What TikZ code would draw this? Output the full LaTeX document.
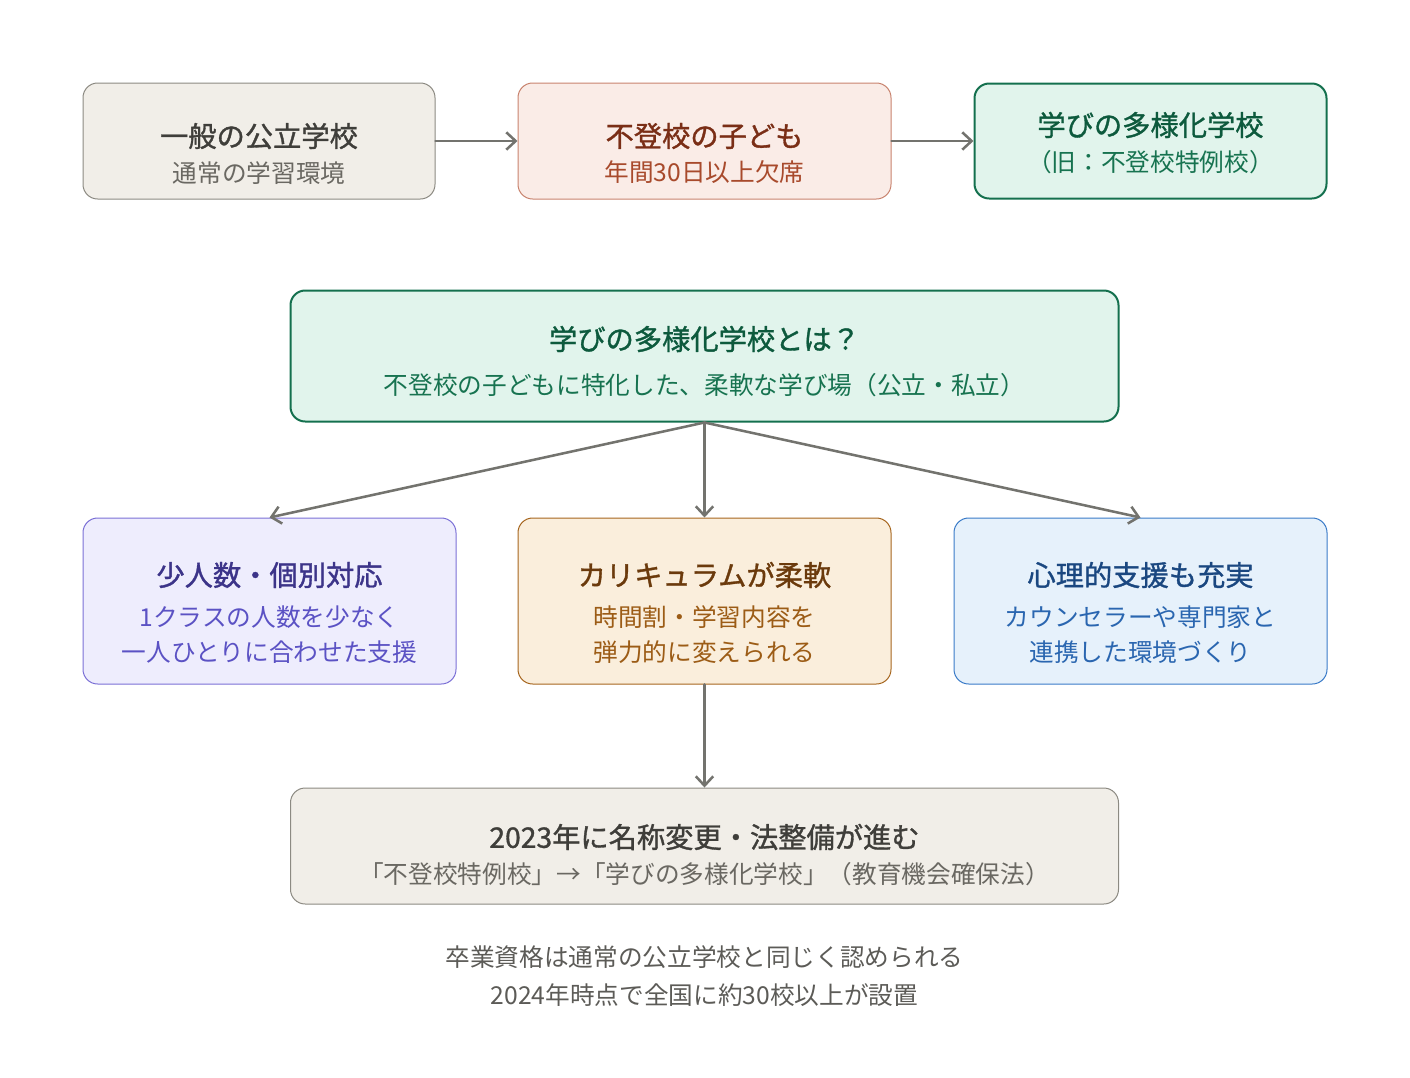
\documentclass[tikz,border=0pt]{standalone}
\usepackage{fontspec}
\setmainfont{Noto Sans CJK JP}
\newfontfamily\damfont[FakeBold=1.2]{Noto Sans CJK JP}
\usetikzlibrary{arrows.meta}
\definecolor{xamnen}{HTML}{F1EEE8}\definecolor{xamvien}{HTML}{8C8A82}
\definecolor{xamchu}{HTML}{3F3E3A}\definecolor{xamphu}{HTML}{6A6862}
\definecolor{donen}{HTML}{FAECE7}\definecolor{dovien}{HTML}{C8836E}
\definecolor{dochu}{HTML}{7A2E16}\definecolor{dophu}{HTML}{A84A2C}
\definecolor{xanhnen}{HTML}{E1F4EC}\definecolor{xanhvien}{HTML}{14704E}
\definecolor{xanhchu}{HTML}{0D5A3D}\definecolor{xanhphu}{HTML}{177350}
\definecolor{timnen}{HTML}{EEEDFD}\definecolor{timvien}{HTML}{7B70D6}
\definecolor{timchu}{HTML}{3C3489}\definecolor{timphu}{HTML}{5B52C4}
\definecolor{camnen}{HTML}{FAEEDC}\definecolor{camvien}{HTML}{A6661F}
\definecolor{camchu}{HTML}{6B3A0C}\definecolor{camphu}{HTML}{9C5C16}
\definecolor{lamnen}{HTML}{E6F1FB}\definecolor{lamvien}{HTML}{3A7BC8}
\definecolor{lamchu}{HTML}{1A4780}\definecolor{lamphu}{HTML}{2A66B0}
\definecolor{muiten}{HTML}{73736E}
\begin{document}
\begin{tikzpicture}[x=0.75pt,y=-0.75pt,>={Straight Barb[length=7pt,width=13pt]},line join=round,line cap=round,
	hop/.style={draw,rounded corners=11pt,line width=0.75pt,inner sep=0pt},
	tieude/.style={font=\damfont\fontsize{21.2}{25}\selectfont,inner sep=0pt},
	phude/.style={font=\fontsize{18.5}{22}\selectfont,inner sep=0pt},
	mui/.style={->,draw=muiten,line width=1.9pt}]
	\useasboundingbox (0,0) rectangle (1410,1078);
	%Hàng trên
	\node[hop,fill=xamnen,draw=xamvien,minimum width=352pt*0.75,minimum height=116pt*0.75] (congl) at (259,141) {};
	\node[tieude,text=xamchu] (conglT) at (259,136) {一般の公立学校};
	\node[phude,text=xamphu] (conglS) at (259,173) {通常の学習環境};
	\node[hop,fill=donen,draw=dovien,minimum width=373pt*0.75,minimum height=116pt*0.75] (khong) at (704.5,141) {};
	\node[tieude,text=dochu] (khongT) at (704.5,136) {不登校の子ども};
	\node[phude,text=dophu] (khongS) at (704.5,172) {年間30日以上欠席};
	\node[hop,fill=xanhnen,draw=xanhvien,line width=1.5pt,minimum width=352pt*0.75,minimum height=115pt*0.75] (dadang) at (1150.5,141) {};
	\node[tieude,text=xanhchu] (dadangT) at (1150.5,125) {学びの多様化学校};
	\node[phude,text=xanhphu] (dadangS) at (1150.5,162) {（旧：不登校特例校）};
	\draw[mui] (congl) -- (khong);
	\draw[mui] (khong) -- (dadang);
	%Hộp giữa
	\node[hop,fill=xanhnen,draw=xanhvien,line width=1.5pt,minimum width=828pt*0.75,minimum height=131pt*0.75] (gioithieu) at (704.5,356) {};
	\node[tieude,text=xanhchu] (gioithieuT) at (704.5,339) {学びの多様化学校とは？};
	\node[phude,text=xanhphu] (gioithieuS) at (704.5,385) {不登校の子どもに特化した、柔軟な学び場（公立・私立）};
	%Ba đặc điểm
	\node[hop,fill=timnen,draw=timvien,minimum width=373pt*0.75,minimum height=166pt*0.75] (itnguoi) at (269.5,601) {};
	\node[tieude,text=timchu] (itnguoiT) at (269.5,575) {少人数・個別対応};
	\node[phude,text=timphu] (itnguoiS) at (269.5,617) {1クラスの人数を少なく};
	\node[phude,text=timphu] (itnguoiU) at (269.5,652) {一人ひとりに合わせた支援};
	\node[hop,fill=camnen,draw=camvien,minimum width=373pt*0.75,minimum height=166pt*0.75] (linhhoat) at (704.5,601) {};
	\node[tieude,text=camchu] (linhhoatT) at (704.5,575) {カリキュラムが柔軟};
	\node[phude,text=camphu] (linhhoatS) at (704.5,617) {時間割・学習内容を};
	\node[phude,text=camphu] (linhhoatU) at (704.5,652) {弾力的に変えられる};
	\node[hop,fill=lamnen,draw=lamvien,minimum width=373pt*0.75,minimum height=166pt*0.75] (tamly) at (1140.5,601) {};
	\node[tieude,text=lamchu] (tamlyT) at (1140.5,575) {心理的支援も充実};
	\node[phude,text=lamphu] (tamlyS) at (1140.5,617) {カウンセラーや専門家と};
	\node[phude,text=lamphu] (tamlyU) at (1140.5,652) {連携した環境づくり};
	\draw[mui] (gioithieu.south) -- (itnguoi.north);
	\draw[mui] (gioithieu.south) -- (linhhoat.north);
	\draw[mui] (gioithieu.south) -- (tamly.north);
	%Hộp dưới
	\node[hop,fill=xamnen,draw=xamvien,minimum width=828pt*0.75,minimum height=116pt*0.75] (doiten) at (704.5,846) {};
	\node[tieude,text=xamchu] (doitenT) at (704.5,837) {2023年に名称変更・法整備が進む};
	\node[phude,text=xamphu] (doitenS) at (704.5,874) {「不登校特例校」→「学びの多様化学校」（教育機会確保法）};
	\draw[mui] (linhhoat) -- (doiten);
	%Ghi chú
	\node[phude,text=xamchu!85] (ghichu1) at (704.5,957) {卒業資格は通常の公立学校と同じく認められる};
	\node[phude,text=xamchu!85] (ghichu2) at (704.5,995) {2024年時点で全国に約30校以上が設置};
\end{tikzpicture}
\end{document}
